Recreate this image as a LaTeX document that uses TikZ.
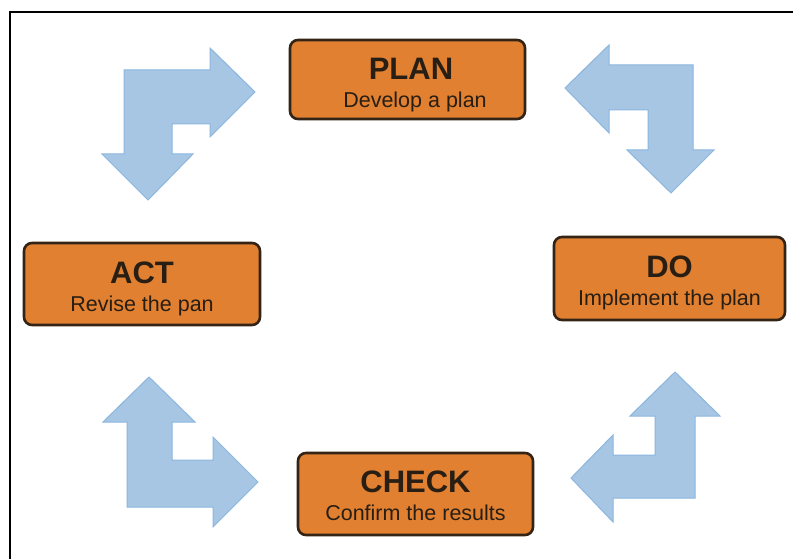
\documentclass[tikz,border=0pt]{standalone}
\usepackage{fontspec}
\setmainfont{Liberation Sans}
\definecolor{boxfill}{RGB}{224,128,48}
\definecolor{boxline}{RGB}{52,36,22}
\definecolor{txt}{RGB}{40,30,20}
\definecolor{arrfill}{RGB}{166,198,228}
\definecolor{arrline}{RGB}{140,182,222}
\begin{document}
\begin{tikzpicture}[x=1pt,y=-1pt,
  box/.style={draw=boxline, line width=2.6pt, fill=boxfill, rounded corners=8pt, inner sep=0pt},
  ttl/.style={anchor=base, inner sep=0pt, text=txt, font=\fontsize{31}{31}\selectfont\bfseries},
  sub/.style={anchor=base, inner sep=0pt, text=txt, font=\fontsize{21.5}{21.5}\selectfont},
  larrow/.style={fill=arrfill, draw=arrline, line width=1pt, line join=miter}]
\useasboundingbox[fill=white] (0,0) rectangle (793,559);
% frame
\draw[line width=1.5pt] (10,559) -- (10,12) -- (793,12);
% boxes
\node[box, minimum width=235pt, minimum height=79pt] (plan) at (407.5,79.5) {};
\node[ttl] (planT) at (411,80) {PLAN};
\node[sub] (planS) at (415,108) {Develop a plan};
\node[box, minimum width=236pt, minimum height=82pt] (act) at (142,284) {};
\node[ttl] (actT) at (142,283) {ACT};
\node[sub] (actS) at (142,311) {Revise the pan};
\node[box, minimum width=231pt, minimum height=83pt] (do) at (669.5,278.5) {};
\node[ttl] (doT) at (669.5,277) {DO};
\node[sub] (doS) at (669.5,305) {Implement the plan};
\node[box, minimum width=235pt, minimum height=82pt] (check) at (415.5,494) {};
\node[ttl] (checkT) at (415.5,492) {CHECK};
\node[sub] (checkS) at (415.5,520) {Confirm the results};
% arrows
\draw[larrow] (124,70) -- (210,70) -- (210,48) -- (255,92) -- (210,137) -- (210,124) -- (172,124) -- (172,154) -- (193,154) -- (148,200) -- (102,154) -- (124,154) -- cycle;
\draw[larrow] (693,65) -- (609,65) -- (609,45) -- (565,88) -- (609,133) -- (609,110) -- (648,110) -- (648,150) -- (627,150) -- (671,193) -- (714,150) -- (693,150) -- cycle;
\draw[larrow] (127,507) -- (127,422) -- (103,422) -- (149,377) -- (195,422) -- (172,422) -- (172,460) -- (213,460) -- (213,437) -- (258,482) -- (213,527) -- (213,507) -- cycle;
\draw[larrow] (695,498) -- (695,416) -- (720,416) -- (675,372) -- (630,416) -- (655,416) -- (655,455) -- (613,455) -- (613,435) -- (571,478) -- (613,522) -- (613,498) -- cycle;
\end{tikzpicture}
\end{document}
